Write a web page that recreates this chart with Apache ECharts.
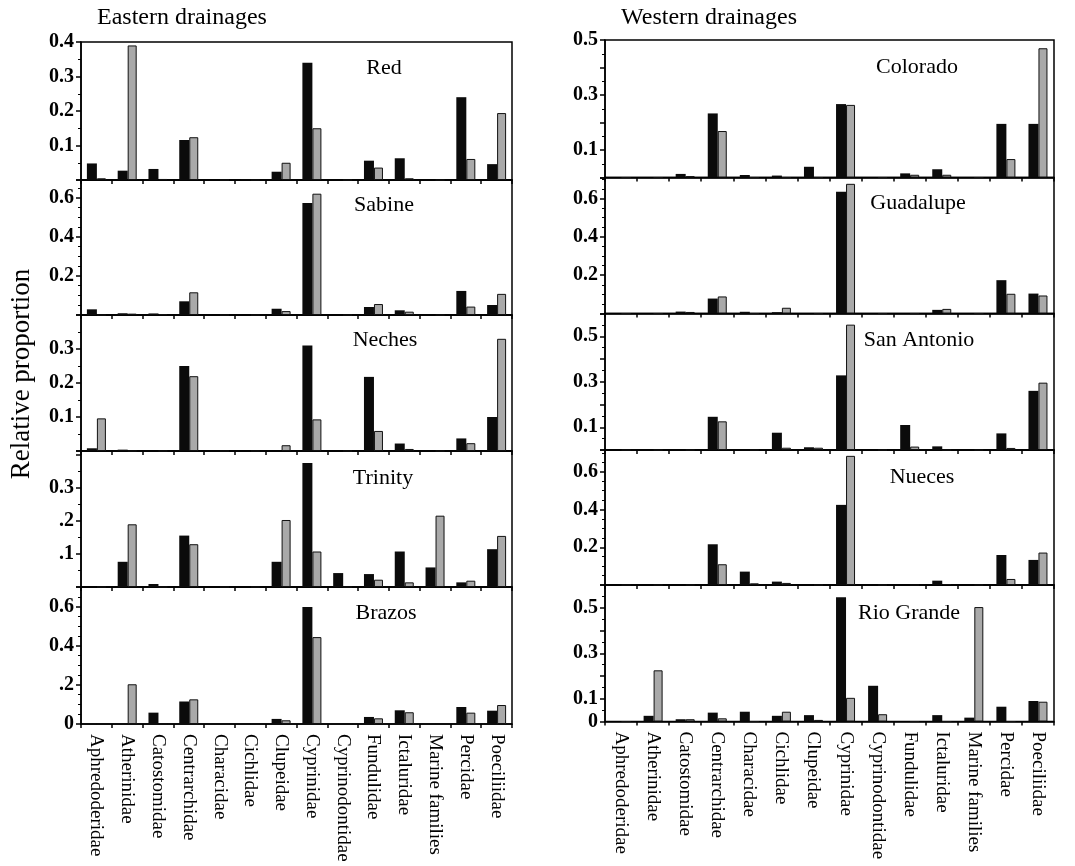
<!DOCTYPE html>
<html><head><meta charset="utf-8">
<script src="https://cdn.jsdelivr.net/npm/echarts@6/dist/echarts.min.js"></script>
<style>html,body{margin:0;padding:0;background:#fff}#c{width:1075px;height:866px}</style>
</head><body><div id="c"></div><script>
// ---------- DATA ----------
const categories = ['Aphredoderidae','Atherinidae','Catostomidae','Centrarchidae','Characidae','Cichlidae','Clupeidae','Cyprinidae','Cyprinodontidae','Fundulidae','Ictaluridae','Marine families','Percidae','Poeciliidae'];
const panelNames = ['Red','Sabine','Neches','Trinity','Brazos','Colorado','Guadalupe','San Antonio','Nueces','Rio Grande'];
const columnTitles = ['Eastern drainages','Western drainages'];
const yAxisTitle = 'Relative proportion';

// black bars (first series) and stippled grey bars (second series)
const redA     = [0.048,0.027,0.032,0.116,0,0.002,0.024,0.340,0,0.056,0.063,0,0.240,0.046];
const redB     = [0.005,0.390,0.003,0.124,0,0,0.050,0.150,0,0.036,0.005,0,0.061,0.194];
const sabineA  = [0.029,0.009,0.008,0.070,0,0,0.032,0.573,0,0.041,0.024,0,0.123,0.051];
const sabineB  = [0,0.007,0.005,0.116,0,0,0.020,0.620,0,0.056,0.017,0,0.043,0.108];
const nechesA  = [0.008,0.004,0,0.250,0,0,0,0.310,0,0.218,0.022,0,0.037,0.100];
const nechesB  = [0.096,0,0,0.220,0,0,0.017,0.093,0,0.059,0.006,0,0.023,0.330];
const trinityA = [0,0.076,0.009,0.155,0,0,0.076,0.374,0.042,0.039,0.107,0.059,0.014,0.114];
const trinityB = [0,0.189,0,0.129,0,0,0.202,0.107,0,0.022,0.014,0.215,0.019,0.154];
const brazosA  = [0,0,0.058,0.115,0,0,0.026,0.598,0,0.036,0.070,0,0.087,0.068];
const brazosB  = [0,0.203,0,0.126,0,0,0.019,0.444,0,0.029,0.060,0,0.058,0.097];
const coloradoA  = [0,0,0.013,0.233,0.009,0.007,0.039,0.267,0,0.015,0.030,0,0.195,0.195];
const coloradoB  = [0,0,0.005,0.169,0,0,0,0.264,0,0.010,0.010,0,0.067,0.470];
const guadalupeA = [0,0,0.010,0.078,0.009,0.007,0,0.635,0,0,0.019,0,0.174,0.104];
const guadalupeB = [0,0,0.008,0.089,0,0.030,0,0.677,0,0,0.024,0,0.103,0.094];
const sanAntonioA = [0,0,0,0.146,0,0.076,0.012,0.328,0,0.110,0.016,0,0.073,0.260];
const sanAntonioB = [0,0,0,0.126,0,0.010,0.010,0.551,0,0.015,0,0,0.009,0.296];
const nuecesA = [0,0,0,0.216,0.071,0.018,0,0.425,0,0,0.023,0,0.159,0.133];
const nuecesB = [0,0,0,0.110,0.009,0.011,0,0.685,0,0,0.005,0,0.032,0.172];
const rioGrandeA = [0,0.025,0.010,0.039,0.043,0.025,0.028,0.546,0.157,0,0.028,0.017,0.065,0.090];
const rioGrandeB = [0,0.225,0.010,0.014,0,0.043,0.007,0.104,0.032,0,0,0.503,0,0.087];

// y tick labels shown on each panel
const redTicks = ['0.1','0.2','0.3','0.4'];
const sabineTicks = ['0.2','0.4','0.6'];
const nechesTicks = ['0.1','0.2','0.3'];
const trinityTicks = ['.1','.2','0.3'];
const brazosTicks = ['0','.2','0.4','0.6'];
const coloradoTicks = ['0.1','0.3','0.5'];
const guadalupeTicks = ['0.2','0.4','0.6'];
const sanAntonioTicks = ['0.1','0.3','0.5'];
const nuecesTicks = ['0.2','0.4','0.6'];
const rioGrandeTicks = ['0','0.1','0.3','0.5'];

// ---------- LAYOUT ----------
const seriesA = [redA,sabineA,nechesA,trinityA,brazosA,coloradoA,guadalupeA,sanAntonioA,nuecesA,rioGrandeA];
const seriesB = [redB,sabineB,nechesB,trinityB,brazosB,coloradoB,guadalupeB,sanAntonioB,nuecesB,rioGrandeB];
const tickSets = [redTicks,sabineTicks,nechesTicks,trinityTicks,brazosTicks,coloradoTicks,guadalupeTicks,sanAntonioTicks,nuecesTicks,rioGrandeTicks];
const layout = [
  {left:81,top:42,width:431,height:138,max:0.40,interval:0.1,minor:2, tx:384,ty:68},
  {left:81,top:180,width:431,height:135,max:0.69,interval:0.2,minor:4, tx:384,ty:205},
  {left:81,top:315,width:431,height:136,max:0.40,interval:0.1,minor:2, tx:385,ty:340},
  {left:81,top:451,width:431,height:136,max:0.41,interval:0.1,minor:2, tx:383,ty:478},
  {left:81,top:587,width:431,height:137,max:0.70,interval:0.2,minor:4, tx:386,ty:613},
  {left:605,top:40,width:449,height:137.5,max:0.50,interval:0.1,minor:2, tx:917,ty:67},
  {left:605,top:177.5,width:449,height:136,max:0.71,interval:0.2,minor:4, tx:918,ty:203},
  {left:605,top:313.5,width:449,height:136.5,max:0.60,interval:0.1,minor:2, tx:919,ty:340},
  {left:605,top:450,width:449,height:135,max:0.716,interval:0.2,minor:4, tx:922,ty:477},
  {left:605,top:585,width:449,height:136.5,max:0.60,interval:0.1,minor:2, tx:909,ty:613}
];
const FONT = "'Liberation Serif','Times New Roman',serif";

const grids=[], xAxes=[], yAxes=[], series=[], graphics=[];
layout.forEach((L,i)=>{
  grids.push({left:L.left,top:L.top,width:L.width,height:L.height,show:true,borderColor:'#000',borderWidth:1.5,containLabel:false});
  const bottom = (i===4||i===9);
  xAxes.push({type:'category',gridIndex:i,data:categories,boundaryGap:true,
    axisLine:{lineStyle:{color:'#000',width:1.5}},
    axisTick:{show:true,length:4,inside:false,alignWithLabel:false,lineStyle:{color:'#000',width:1.5}},
    axisLabel:{show:bottom,interval:0,rotate:-90,margin:10,color:'#000',fontFamily:FONT,fontSize:19}});
  const labels = tickSets[i];
  yAxes.push({type:'value',gridIndex:i,min:0,max:L.max,interval:L.interval,
    axisLine:{show:true,lineStyle:{color:'#000',width:1.5}},
    axisTick:{show:true,length:5,lineStyle:{color:'#000',width:1.5}},
    minorTick:{show:true,splitNumber:L.minor,length:3,lineStyle:{color:'#000',width:1}},
    splitLine:{show:false},
    axisLabel:{show:true,margin:7,color:'#000',fontFamily:FONT,fontSize:20,fontWeight:'bold',
      showMinLabel:true,showMaxLabel:true,
      formatter:function(v){const l=labels.find(s=>Math.abs(parseFloat(s)-v)<1e-6);return l===undefined?'':l;}}});
  series.push({type:'bar',xAxisIndex:i,yAxisIndex:i,data:seriesA[i],barWidth:10,barGap:'0%',
    itemStyle:{color:'#0b0b0b'},silent:true});
  series.push({type:'bar',xAxisIndex:i,yAxisIndex:i,data:seriesB[i],barWidth:9,barGap:'0%',
    itemStyle:{color:'#a9a9a9',borderColor:'#111',borderWidth:1},silent:true});
  graphics.push({type:'text',x:L.tx,y:L.ty,style:{text:panelNames[i],font:"22px "+FONT,fill:'#000',textAlign:'center',textVerticalAlign:'middle'}});
});
graphics.push({type:'text',x:97,y:18,style:{text:columnTitles[0],font:"24px "+FONT,fill:'#000',textAlign:'left',textVerticalAlign:'middle'}});
graphics.push({type:'text',x:621,y:18,style:{text:columnTitles[1],font:"24px "+FONT,fill:'#000',textAlign:'left',textVerticalAlign:'middle'}});
graphics.push({type:'text',x:22,y:374,rotation:Math.PI/2,style:{text:yAxisTitle,font:"27px "+FONT,fill:'#000',textAlign:'center',textVerticalAlign:'middle'}});

const chart = echarts.init(document.getElementById('c'),null,{renderer:'canvas'});
chart.setOption({backgroundColor:'#fff',animation:false,grid:grids,xAxis:xAxes,yAxis:yAxes,series:series,graphic:graphics});
</script></body></html>
